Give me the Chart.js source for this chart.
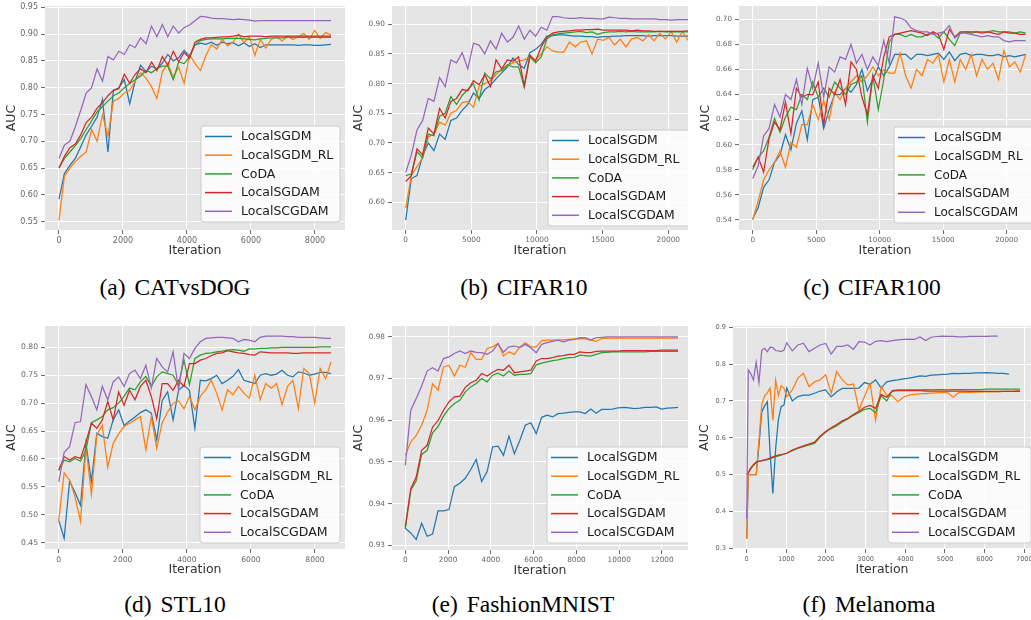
<!DOCTYPE html>
<html><head><meta charset="utf-8">
<script src="https://cdn.jsdelivr.net/npm/chart.js@4.4.1/dist/chart.umd.min.js"></script>
<style>
html,body{margin:0;padding:0;background:#fff;}
body{width:1031px;height:620px;overflow:hidden;position:relative;}
.box{position:absolute;}
.cap{position:absolute;width:300px;text-align:center;font-family:'Liberation Serif','Times New Roman',serif;font-size:23.5px;color:#000;line-height:26px;white-space:nowrap;}
.cap .gap{display:inline-block;width:3px;}
</style></head><body>
<script>
// ---------------- DATA ----------------
const seriesNames = ['LocalSGDM','LocalSGDM_RL','CoDA','LocalSGDAM','LocalSCGDAM'];
const panelTags = ['(a)','(b)','(c)','(d)','(e)','(f)'];
const datasetNames = ['CATvsDOG','CIFAR10','CIFAR100','STL10','FashionMNIST','Melanoma'];

// tick labels
const xTicksCat = [0,2000,4000,6000,8000];
const yTicksCat = [0.55,0.60,0.65,0.70,0.75,0.80,0.85,0.90,0.95];
const xTicksCifar = [0,5000,10000,15000,20000];
const yTicksCifar10 = [0.60,0.65,0.70,0.75,0.80,0.85,0.90];
const yTicksCifar100 = [0.54,0.56,0.58,0.60,0.62,0.64,0.66,0.68,0.70];
const xTicksStl = [0,2000,4000,6000,8000];
const yTicksStl = [0.45,0.50,0.55,0.60,0.65,0.70,0.75,0.80];
const xTicksFashion = [0,2000,4000,6000,8000,10000,12000];
const yTicksFashion = [0.93,0.94,0.95,0.96,0.97,0.98];
const xTicksMel = [0,1000,2000,3000,4000,5000,6000,7000];
const yTicksMel = [0.3,0.4,0.5,0.6,0.7,0.8,0.9];

// (a) CATvsDOG
const itersCat = [0,170,340,510,680,850,1020,1190,1360,1530,1700,1870,2040,2210,2380,2550,2720,2890,3060,3230,3400,3570,3740,3910,4080,4250,4420,4590,4760,4930,5100,5270,5440,5610,5780,5950,6120,6290,6460,6630,6800,6970,7140,7310,7480,7650,7820,7990,8160,8330,8500];
const catSGDM = [0.592,0.640,0.655,0.668,0.690,0.712,0.728,0.745,0.778,0.680,0.795,0.800,0.815,0.770,0.812,0.842,0.830,0.840,0.835,0.846,0.862,0.850,0.856,0.870,0.858,0.880,0.883,0.881,0.885,0.879,0.885,0.882,0.884,0.878,0.884,0.877,0.882,0.875,0.880,0.880,0.880,0.880,0.880,0.880,0.879,0.880,0.880,0.879,0.879,0.880,0.881];
const catRL = [0.553,0.635,0.650,0.662,0.672,0.680,0.722,0.700,0.750,0.710,0.775,0.780,0.790,0.795,0.812,0.828,0.818,0.802,0.780,0.830,0.845,0.820,0.838,0.808,0.862,0.845,0.832,0.860,0.880,0.872,0.890,0.878,0.885,0.900,0.884,0.895,0.860,0.890,0.874,0.890,0.895,0.887,0.896,0.890,0.895,0.901,0.890,0.907,0.892,0.903,0.898];
const catCoDA = [0.650,0.668,0.680,0.692,0.705,0.722,0.738,0.755,0.765,0.775,0.785,0.790,0.800,0.808,0.815,0.822,0.832,0.828,0.836,0.840,0.840,0.815,0.848,0.845,0.858,0.880,0.888,0.890,0.891,0.891,0.891,0.892,0.892,0.892,0.891,0.890,0.889,0.891,0.892,0.893,0.893,0.893,0.894,0.894,0.894,0.894,0.894,0.894,0.894,0.894,0.894];
const catSGDAM = [0.650,0.672,0.688,0.695,0.712,0.735,0.745,0.762,0.772,0.785,0.795,0.798,0.825,0.808,0.825,0.835,0.828,0.848,0.832,0.858,0.842,0.868,0.848,0.866,0.855,0.885,0.890,0.893,0.893,0.894,0.895,0.895,0.896,0.898,0.895,0.896,0.896,0.896,0.895,0.896,0.896,0.896,0.896,0.896,0.896,0.896,0.896,0.896,0.896,0.896,0.896];
const catSCGDAM = [0.668,0.693,0.700,0.727,0.758,0.790,0.800,0.835,0.812,0.858,0.852,0.868,0.862,0.880,0.875,0.893,0.882,0.915,0.895,0.918,0.895,0.915,0.902,0.912,0.917,0.925,0.933,0.932,0.930,0.929,0.929,0.928,0.927,0.928,0.927,0.926,0.924,0.925,0.925,0.925,0.925,0.925,0.925,0.925,0.925,0.925,0.925,0.925,0.925,0.925,0.925];

// (b) CIFAR10
const itersCifar10 = [0,430,860,1290,1720,2150,2580,3010,3440,3870,4300,4730,5160,5590,6020,6450,6880,7310,7740,8170,8600,9030,9460,9890,10320,10750,11180,11610,12040,12470,12900,13330,13760,14190,14620,15050,15480,15910,16340,16770,17200,17630,18060,18490,18920,19350,19780,20210,20640,21070,21500];
const c10SGDM = [0.570,0.640,0.645,0.678,0.700,0.687,0.715,0.706,0.738,0.742,0.755,0.765,0.784,0.775,0.790,0.797,0.808,0.818,0.828,0.843,0.832,0.826,0.852,0.858,0.866,0.880,0.881,0.882,0.882,0.881,0.880,0.880,0.879,0.879,0.878,0.879,0.879,0.880,0.880,0.881,0.881,0.881,0.881,0.880,0.881,0.881,0.881,0.881,0.880,0.880,0.880];
const c10RL = [0.590,0.645,0.660,0.675,0.710,0.715,0.735,0.730,0.750,0.755,0.768,0.770,0.760,0.795,0.800,0.805,0.815,0.825,0.830,0.835,0.838,0.840,0.845,0.840,0.850,0.862,0.855,0.853,0.853,0.870,0.862,0.870,0.872,0.850,0.875,0.873,0.878,0.865,0.875,0.862,0.875,0.878,0.872,0.882,0.872,0.885,0.875,0.888,0.870,0.888,0.873];
const c10CoDA = [0.645,0.648,0.685,0.675,0.715,0.712,0.745,0.750,0.778,0.765,0.780,0.790,0.800,0.772,0.818,0.808,0.820,0.822,0.832,0.828,0.828,0.794,0.845,0.835,0.845,0.875,0.882,0.884,0.885,0.886,0.887,0.888,0.886,0.887,0.883,0.886,0.887,0.887,0.888,0.887,0.888,0.887,0.887,0.887,0.887,0.888,0.887,0.887,0.887,0.887,0.887];
const c10SGDAM = [0.635,0.645,0.690,0.680,0.725,0.715,0.758,0.742,0.770,0.775,0.790,0.788,0.805,0.798,0.815,0.795,0.840,0.825,0.840,0.838,0.845,0.796,0.848,0.838,0.862,0.878,0.885,0.887,0.888,0.889,0.890,0.890,0.891,0.891,0.892,0.890,0.890,0.890,0.890,0.890,0.889,0.890,0.889,0.889,0.888,0.888,0.888,0.888,0.888,0.888,0.889];
const c10SCGDAM = [0.650,0.680,0.722,0.738,0.775,0.770,0.810,0.795,0.840,0.835,0.852,0.825,0.868,0.865,0.850,0.872,0.858,0.885,0.870,0.878,0.897,0.875,0.890,0.880,0.895,0.890,0.913,0.913,0.911,0.910,0.910,0.911,0.910,0.910,0.909,0.909,0.912,0.911,0.910,0.910,0.909,0.909,0.909,0.909,0.909,0.908,0.908,0.907,0.908,0.908,0.908];

// (c) CIFAR100
const itersCifar100 = [0,430,860,1290,1720,2150,2580,3010,3440,3870,4300,4730,5160,5590,6020,6450,6880,7310,7740,8170,8600,9030,9460,9890,10320,10750,11180,11610,12040,12470,12900,13330,13760,14190,14620,15050,15480,15910,16340,16770,17200,17630,18060,18490,18920,19350,19780,20210,20640,21070,21500];
const c100SGDM = [0.541,0.550,0.566,0.572,0.586,0.592,0.608,0.596,0.617,0.627,0.604,0.636,0.638,0.613,0.628,0.640,0.640,0.645,0.642,0.648,0.660,0.643,0.652,0.662,0.655,0.662,0.672,0.672,0.672,0.668,0.672,0.672,0.671,0.672,0.673,0.668,0.674,0.667,0.672,0.673,0.671,0.672,0.672,0.671,0.671,0.672,0.670,0.671,0.670,0.671,0.672];
const c100RL = [0.540,0.555,0.572,0.580,0.586,0.595,0.582,0.602,0.598,0.616,0.616,0.632,0.620,0.635,0.620,0.642,0.636,0.645,0.650,0.655,0.650,0.655,0.662,0.655,0.660,0.657,0.657,0.673,0.655,0.645,0.660,0.655,0.668,0.665,0.672,0.650,0.668,0.650,0.668,0.660,0.672,0.655,0.668,0.660,0.665,0.652,0.675,0.662,0.666,0.658,0.672];
const c100CoDA = [0.580,0.590,0.595,0.606,0.621,0.610,0.622,0.630,0.628,0.640,0.636,0.650,0.638,0.645,0.638,0.650,0.645,0.640,0.648,0.650,0.655,0.618,0.655,0.628,0.652,0.682,0.688,0.688,0.686,0.688,0.686,0.686,0.688,0.689,0.685,0.690,0.684,0.679,0.689,0.690,0.689,0.690,0.690,0.690,0.691,0.690,0.690,0.690,0.689,0.690,0.689];
const c100SGDAM = [0.582,0.590,0.578,0.605,0.618,0.612,0.634,0.609,0.645,0.638,0.640,0.640,0.650,0.616,0.645,0.640,0.652,0.632,0.666,0.660,0.638,0.624,0.655,0.645,0.670,0.686,0.688,0.689,0.690,0.691,0.690,0.689,0.687,0.690,0.688,0.676,0.692,0.686,0.690,0.690,0.690,0.690,0.689,0.690,0.689,0.688,0.690,0.689,0.689,0.688,0.688];
const c100SCGDAM = [0.573,0.583,0.607,0.613,0.632,0.622,0.640,0.636,0.652,0.632,0.661,0.645,0.665,0.638,0.662,0.658,0.670,0.668,0.680,0.665,0.672,0.660,0.670,0.663,0.683,0.665,0.702,0.701,0.699,0.693,0.691,0.690,0.690,0.688,0.689,0.690,0.695,0.685,0.689,0.689,0.688,0.687,0.686,0.687,0.686,0.686,0.683,0.682,0.683,0.683,0.683];

// (d) STL10
const itersStl = [0,170,340,510,680,850,1020,1190,1360,1530,1700,1870,2040,2210,2380,2550,2720,2890,3060,3230,3400,3570,3740,3910,4080,4250,4420,4590,4760,4930,5100,5270,5440,5610,5780,5950,6120,6290,6460,6630,6800,6970,7140,7310,7480,7650,7820,7990,8160,8330,8500];
const stlSGDM = [0.490,0.458,0.560,0.540,0.517,0.628,0.560,0.646,0.640,0.637,0.670,0.688,0.660,0.668,0.675,0.683,0.688,0.682,0.634,0.705,0.720,0.670,0.723,0.732,0.723,0.655,0.741,0.740,0.744,0.750,0.735,0.741,0.748,0.760,0.741,0.738,0.735,0.750,0.753,0.750,0.752,0.759,0.750,0.747,0.756,0.754,0.750,0.752,0.755,0.755,0.753];
const stlRL = [0.490,0.575,0.562,0.532,0.488,0.620,0.537,0.643,0.660,0.585,0.628,0.645,0.658,0.664,0.670,0.676,0.616,0.676,0.619,0.665,0.684,0.700,0.704,0.690,0.712,0.688,0.712,0.724,0.741,0.718,0.688,0.724,0.715,0.730,0.718,0.709,0.750,0.706,0.735,0.727,0.735,0.697,0.730,0.741,0.690,0.762,0.753,0.700,0.762,0.744,0.774];
const stlCoDA = [0.580,0.598,0.595,0.601,0.596,0.616,0.665,0.670,0.676,0.688,0.692,0.700,0.712,0.727,0.724,0.738,0.748,0.730,0.747,0.756,0.753,0.750,0.733,0.777,0.733,0.780,0.786,0.789,0.790,0.792,0.793,0.795,0.796,0.795,0.793,0.797,0.797,0.798,0.798,0.799,0.799,0.800,0.800,0.800,0.800,0.800,0.800,0.800,0.801,0.801,0.801];
const stlSGDAM = [0.580,0.604,0.598,0.604,0.601,0.630,0.664,0.655,0.670,0.703,0.670,0.720,0.696,0.723,0.706,0.730,0.741,0.712,0.672,0.735,0.735,0.723,0.741,0.730,0.771,0.771,0.777,0.780,0.785,0.789,0.790,0.794,0.792,0.790,0.789,0.787,0.786,0.792,0.791,0.790,0.790,0.790,0.790,0.789,0.789,0.790,0.790,0.790,0.790,0.790,0.790];
const stlSCGDAM = [0.559,0.612,0.622,0.665,0.667,0.733,0.712,0.688,0.730,0.706,0.738,0.747,0.730,0.753,0.759,0.744,0.768,0.727,0.780,0.765,0.756,0.792,0.724,0.789,0.780,0.798,0.810,0.816,0.817,0.818,0.818,0.817,0.816,0.810,0.814,0.813,0.810,0.818,0.820,0.820,0.820,0.820,0.819,0.819,0.818,0.818,0.818,0.818,0.817,0.816,0.816];

// (e) FashionMNIST
const itersFashion = [0,255,510,765,1020,1275,1530,1785,2040,2295,2550,2805,3060,3315,3570,3825,4080,4335,4590,4845,5100,5355,5610,5865,6120,6375,6630,6885,7140,7395,7650,7905,8160,8415,8670,8925,9180,9435,9690,9945,10200,10455,10710,10965,11220,11475,11730,11985,12240,12495,12750];
const fmSGDM = [0.9341,0.9330,0.9314,0.9353,0.9322,0.9327,0.9383,0.9383,0.9386,0.9441,0.9449,0.9461,0.9482,0.9506,0.9453,0.9477,0.9536,0.9538,0.9516,0.9562,0.9520,0.9552,0.9588,0.9594,0.9568,0.9607,0.9612,0.9608,0.9616,0.9617,0.9619,0.9620,0.9620,0.9616,0.9627,0.9617,0.9626,0.9626,0.9627,0.9630,0.9631,0.9630,0.9628,0.9629,0.9631,0.9631,0.9632,0.9627,0.9629,0.9630,0.9631];
const fmRL = [0.9516,0.9548,0.9564,0.9588,0.9624,0.9687,0.9672,0.9728,0.9732,0.9706,0.9732,0.9727,0.9762,0.9746,0.9746,0.9772,0.9776,0.9784,0.9754,0.9764,0.9758,0.9776,0.9786,0.9776,0.9776,0.9791,0.9792,0.9792,0.9793,0.9793,0.9794,0.9795,0.9796,0.9795,0.9792,0.9789,0.9796,0.9797,0.9797,0.9797,0.9797,0.9797,0.9797,0.9797,0.9797,0.9797,0.9797,0.9797,0.9797,0.9797,0.9797];
const fmCoDA = [0.9340,0.9432,0.9455,0.9518,0.9528,0.9570,0.9585,0.9610,0.9628,0.9640,0.9648,0.9668,0.9680,0.9688,0.9700,0.9692,0.9708,0.9713,0.9706,0.9718,0.9708,0.9710,0.9710,0.9712,0.9733,0.9737,0.9740,0.9743,0.9745,0.9748,0.9750,0.9751,0.9756,0.9755,0.9754,0.9758,0.9762,0.9763,0.9764,0.9764,0.9764,0.9764,0.9764,0.9764,0.9764,0.9765,0.9765,0.9765,0.9765,0.9765,0.9765];
const fmSGDAM = [0.9345,0.9436,0.9464,0.9528,0.9540,0.9584,0.9599,0.9624,0.9644,0.9656,0.9658,0.9679,0.9690,0.9696,0.9712,0.9706,0.9715,0.9722,0.9720,0.9732,0.9714,0.9716,0.9718,0.9720,0.9742,0.9748,0.9748,0.9750,0.9754,0.9755,0.9758,0.9758,0.9764,0.9762,0.9762,0.9765,0.9766,0.9766,0.9766,0.9766,0.9767,0.9767,0.9767,0.9767,0.9767,0.9767,0.9767,0.9768,0.9768,0.9768,0.9768];
const fmSCGDAM = [0.9492,0.9624,0.9652,0.9682,0.9718,0.9726,0.9718,0.9748,0.9752,0.9760,0.9766,0.9760,0.9766,0.9763,0.9762,0.9758,0.9766,0.9784,0.9763,0.9776,0.9778,0.9774,0.9782,0.9774,0.9762,0.9782,0.9786,0.9789,0.9792,0.9788,0.9792,0.9794,0.9798,0.9798,0.9792,0.9798,0.9799,0.9800,0.9800,0.9800,0.9800,0.9800,0.9800,0.9800,0.9800,0.9800,0.9800,0.9800,0.9800,0.9800,0.9800];

// (f) Melanoma
const itersMel = [0,40,100,170,240,310,380,450,520,590,660,730,800,870,940,1010,1150,1290,1430,1570,1710,1850,1990,2130,2270,2410,2550,2690,2830,2970,3110,3250,3390,3530,3670,3810,3950,4090,4230,4370,4510,4650,4790,4930,5070,5210,5350,5490,5630,5770,5910,6050,6190,6330,6470,6610,6750,6890];
const melSGDM = [0.325,0.500,0.500,0.500,0.500,0.580,0.670,0.686,0.698,0.560,0.449,0.571,0.650,0.685,0.689,0.735,0.700,0.712,0.716,0.716,0.721,0.727,0.730,0.711,0.725,0.734,0.734,0.734,0.735,0.750,0.745,0.757,0.735,0.752,0.755,0.757,0.760,0.762,0.765,0.768,0.767,0.770,0.771,0.772,0.773,0.775,0.774,0.775,0.775,0.776,0.776,0.777,0.776,0.775,0.775,0.773];
const melRL = [0.325,0.500,0.500,0.500,0.500,0.594,0.690,0.714,0.722,0.735,0.648,0.757,0.715,0.741,0.735,0.712,0.730,0.762,0.775,0.739,0.752,0.757,0.771,0.721,0.780,0.757,0.743,0.746,0.676,0.712,0.748,0.648,0.739,0.716,0.714,0.698,0.710,0.716,0.718,0.719,0.720,0.721,0.722,0.723,0.722,0.710,0.723,0.723,0.723,0.724,0.724,0.725,0.725,0.725,0.726,0.726,0.727,0.730];
const melCoDA = [0.500,0.505,0.515,0.525,0.533,0.536,0.537,0.539,0.541,0.543,0.546,0.549,0.551,0.553,0.556,0.558,0.565,0.571,0.576,0.581,0.585,0.602,0.615,0.625,0.633,0.643,0.651,0.661,0.669,0.677,0.680,0.668,0.715,0.700,0.728,0.730,0.730,0.730,0.730,0.730,0.731,0.730,0.731,0.731,0.730,0.731,0.731,0.731,0.731,0.731,0.731,0.732,0.732,0.732,0.732,0.732,0.732,0.732];
const melSGDAM = [0.500,0.505,0.518,0.527,0.534,0.537,0.538,0.540,0.542,0.545,0.548,0.551,0.553,0.554,0.556,0.558,0.567,0.573,0.578,0.583,0.588,0.604,0.617,0.627,0.636,0.646,0.653,0.663,0.672,0.683,0.688,0.680,0.718,0.710,0.727,0.728,0.728,0.728,0.728,0.728,0.727,0.727,0.727,0.727,0.727,0.727,0.727,0.727,0.726,0.726,0.726,0.726,0.726,0.726,0.726,0.726,0.726,0.726];
const melSCGDAM = [0.381,0.784,0.775,0.757,0.805,0.750,0.838,0.843,0.834,0.846,0.845,0.837,0.836,0.834,0.838,0.858,0.836,0.852,0.857,0.834,0.843,0.852,0.856,0.827,0.848,0.848,0.852,0.840,0.861,0.860,0.852,0.862,0.864,0.861,0.864,0.866,0.867,0.868,0.867,0.874,0.864,0.873,0.875,0.876,0.875,0.875,0.874,0.874,0.875,0.875,0.875,0.875,0.876,0.876];

// ---------------- STYLE / LAYOUT ----------------
const COLORS = ['#1f77b4','#ff7f0e','#2ca02c','#d62728','#9467bd'];
const panelData = [
  {x: itersCat,      ys: [catSGDM, catRL, catCoDA, catSGDAM, catSCGDAM],        xt: xTicksCat,     yt: yTicksCat},
  {x: itersCifar10,  ys: [c10SGDM, c10RL, c10CoDA, c10SGDAM, c10SCGDAM],        xt: xTicksCifar,   yt: yTicksCifar10},
  {x: itersCifar100, ys: [c100SGDM, c100RL, c100CoDA, c100SGDAM, c100SCGDAM],   xt: xTicksCifar,   yt: yTicksCifar100},
  {x: itersStl,      ys: [stlSGDM, stlRL, stlCoDA, stlSGDAM, stlSCGDAM],        xt: xTicksStl,     yt: yTicksStl},
  {x: itersFashion,  ys: [fmSGDM, fmRL, fmCoDA, fmSGDAM, fmSCGDAM],             xt: xTicksFashion, yt: yTicksFashion},
  {x: itersMel,      ys: [melSGDM, melRL, melCoDA, melSGDAM, melSCGDAM],        xt: xTicksMel,     yt: yTicksMel}
];
const panelLayout = [
  {area:[45,6,345,230],   xr:[-437,8937],   yr:[0.5345,0.9524], dec:2, leg:{dx:-144,dyb:-8,w:139,fs:12.5}, pr:0,  tf:8,   ytp:4, cap:[175,287]},
  {area:[392,6,688,230],  xr:[-1043,21500], yr:[0.5533,0.9308], dec:2, leg:{dx:-140,dyb:-4,w:143,fs:12.4}, pr:0,  tf:7.4, ytp:4, cap:[524,287]},
  {area:[739,6,1031,230], xr:[-1079,21913], yr:[0.532,0.7106],  dec:2, leg:{dx:-137,dyb:-7,w:143,fs:12},   pr:20, tf:7.2, ytp:4, cap:[872,287]},
  {area:[45,326,345,549], xr:[-428,8936],   yr:[0.4387,0.8382], dec:2, leg:{dx:-145,dyb:-6,w:140,fs:12.5}, pr:0,  tf:7.6, ytp:4, cap:[175,604]},
  {area:[392,326,688,550],xr:[-622,13216],  yr:[0.9289,0.9826], dec:2, leg:{dx:-141,dyb:-7,w:143,fs:12.5}, pr:0,  tf:7.3, ytp:4, cap:[523,604]},
  {area:[733,326,1031,549],xr:[-345,7168],  yr:[0.2981,0.9035], dec:1, leg:{dx:-143,dyb:-6,w:143,fs:12.5}, pr:20, tf:6.6, ytp:9, cap:[869,604]}
];

const bgPlugin = {
  id: 'ggBackground',
  beforeDraw(chart) {
    const {ctx, chartArea: a} = chart;
    ctx.save();
    ctx.fillStyle = '#e5e5e5';
    ctx.fillRect(a.left, a.top, a.right - a.left, a.bottom - a.top);
    ctx.restore();
  }
};
const legendPlugin = {
  id: 'innerLegend',
  afterDraw(chart, args, opts) {
    const {ctx, chartArea: a} = chart;
    const x0 = a.right + opts.dx, h = 96, y0 = a.bottom + opts.dyb - h, w = opts.w, r = 3;
    ctx.save();
    ctx.beginPath();
    ctx.moveTo(x0 + r, y0);
    ctx.lineTo(x0 + w - r, y0); ctx.quadraticCurveTo(x0 + w, y0, x0 + w, y0 + r);
    ctx.lineTo(x0 + w, y0 + h - r); ctx.quadraticCurveTo(x0 + w, y0 + h, x0 + w - r, y0 + h);
    ctx.lineTo(x0 + r, y0 + h); ctx.quadraticCurveTo(x0, y0 + h, x0, y0 + h - r);
    ctx.lineTo(x0, y0 + r); ctx.quadraticCurveTo(x0, y0, x0 + r, y0);
    ctx.closePath();
    ctx.fillStyle = 'rgba(255,255,255,0.82)';
    ctx.fill();
    ctx.strokeStyle = '#cccccc'; ctx.lineWidth = 1; ctx.stroke();
    ctx.font = opts.fs + 'px "DejaVu Sans"';
    ctx.textBaseline = 'middle'; ctx.textAlign = 'left';
    chart.data.datasets.forEach((ds, i) => {
      const yy = y0 + 10.5 + i * 18.7;
      ctx.strokeStyle = ds.borderColor; ctx.lineWidth = 1.5;
      ctx.beginPath(); ctx.moveTo(x0 + 4, yy); ctx.lineTo(x0 + 31, yy); ctx.stroke();
      ctx.fillStyle = '#1a1a1a';
      ctx.fillText(ds.label, x0 + 40, yy + 0.5);
    });
    ctx.restore();
  }
};

const YW = 45, PT = 12, XH = 30;
panelData.forEach((pd, k) => {
  const p = panelLayout[k];
  const [l, t, r, b] = p.area;
  const div = document.createElement('div');
  div.className = 'box';
  div.style.left = (l - YW) + 'px';
  div.style.top = (t - PT) + 'px';
  div.style.width = (YW + (r - l) + p.pr) + 'px';
  div.style.height = (PT + (b - t) + XH) + 'px';
  const cv = document.createElement('canvas');
  div.appendChild(cv);
  document.body.appendChild(div);

  const gridOpts = {color: '#ffffff', lineWidth: 1.1, tickColor: '#666666', tickLength: 4, tickWidth: 1, drawTicks: true};
  const tickFont = {family: 'DejaVu Sans', size: p.tf};
  const titleFont = {family: 'DejaVu Sans', size: 12.5};

  new Chart(cv, {
    type: 'line',
    data: {
      datasets: seriesNames.map((name, i) => ({
        label: name,
        data: pd.ys[i].map((v, j) => ({x: pd.x[j], y: v})),
        borderColor: COLORS[i],
        backgroundColor: COLORS[i],
        borderWidth: 1.25,
        pointRadius: 0,
        tension: 0,
        fill: false,
        order: 4 - i
      }))
    },
    options: {
      responsive: true,
      maintainAspectRatio: false,
      animation: false,
      events: [],
      layout: {padding: {top: PT, right: p.pr, left: 0, bottom: 0}},
      plugins: {
        legend: {display: false},
        tooltip: {enabled: false},
        innerLegend: p.leg
      },
      scales: {
        x: {
          type: 'linear', min: p.xr[0], max: p.xr[1],
          afterBuildTicks: s => { s.ticks = pd.xt.map(v => ({value: v})); },
          afterFit: s => { s.height = XH; },
          grid: gridOpts, border: {display: false},
          ticks: {autoSkip: false, maxRotation: 0, color: '#666666', font: tickFont, padding: 2, callback: v => String(v)},
          title: {display: true, text: 'Iteration', color: '#333333', font: titleFont, padding: {top: 0, bottom: 2}}
        },
        y: {
          type: 'linear', min: p.yr[0], max: p.yr[1],
          afterBuildTicks: s => { s.ticks = pd.yt.map(v => ({value: v})); },
          afterFit: s => { s.width = YW; },
          grid: gridOpts, border: {display: false},
          ticks: {autoSkip: false, color: '#666666', font: tickFont, padding: 3, callback: v => Number(v).toFixed(p.dec)},
          title: {display: true, text: 'AUC', color: '#333333', font: titleFont, padding: {top: p.ytp, bottom: 0}}
        }
      }
    },
    plugins: [bgPlugin, legendPlugin]
  });

  const cap = document.createElement('div');
  cap.className = 'cap';
  cap.style.left = (p.cap[0] - 150) + 'px';
  cap.style.top = (p.cap[1] - 13) + 'px';
  const tag = document.createElement('span'); tag.textContent = panelTags[k];
  const gap = document.createElement('span'); gap.className = 'gap';
  const nm = document.createElement('span'); nm.textContent = ' ' + datasetNames[k];
  cap.appendChild(tag); cap.appendChild(gap); cap.appendChild(nm);
  document.body.appendChild(cap);
});
</script>
</body></html>
